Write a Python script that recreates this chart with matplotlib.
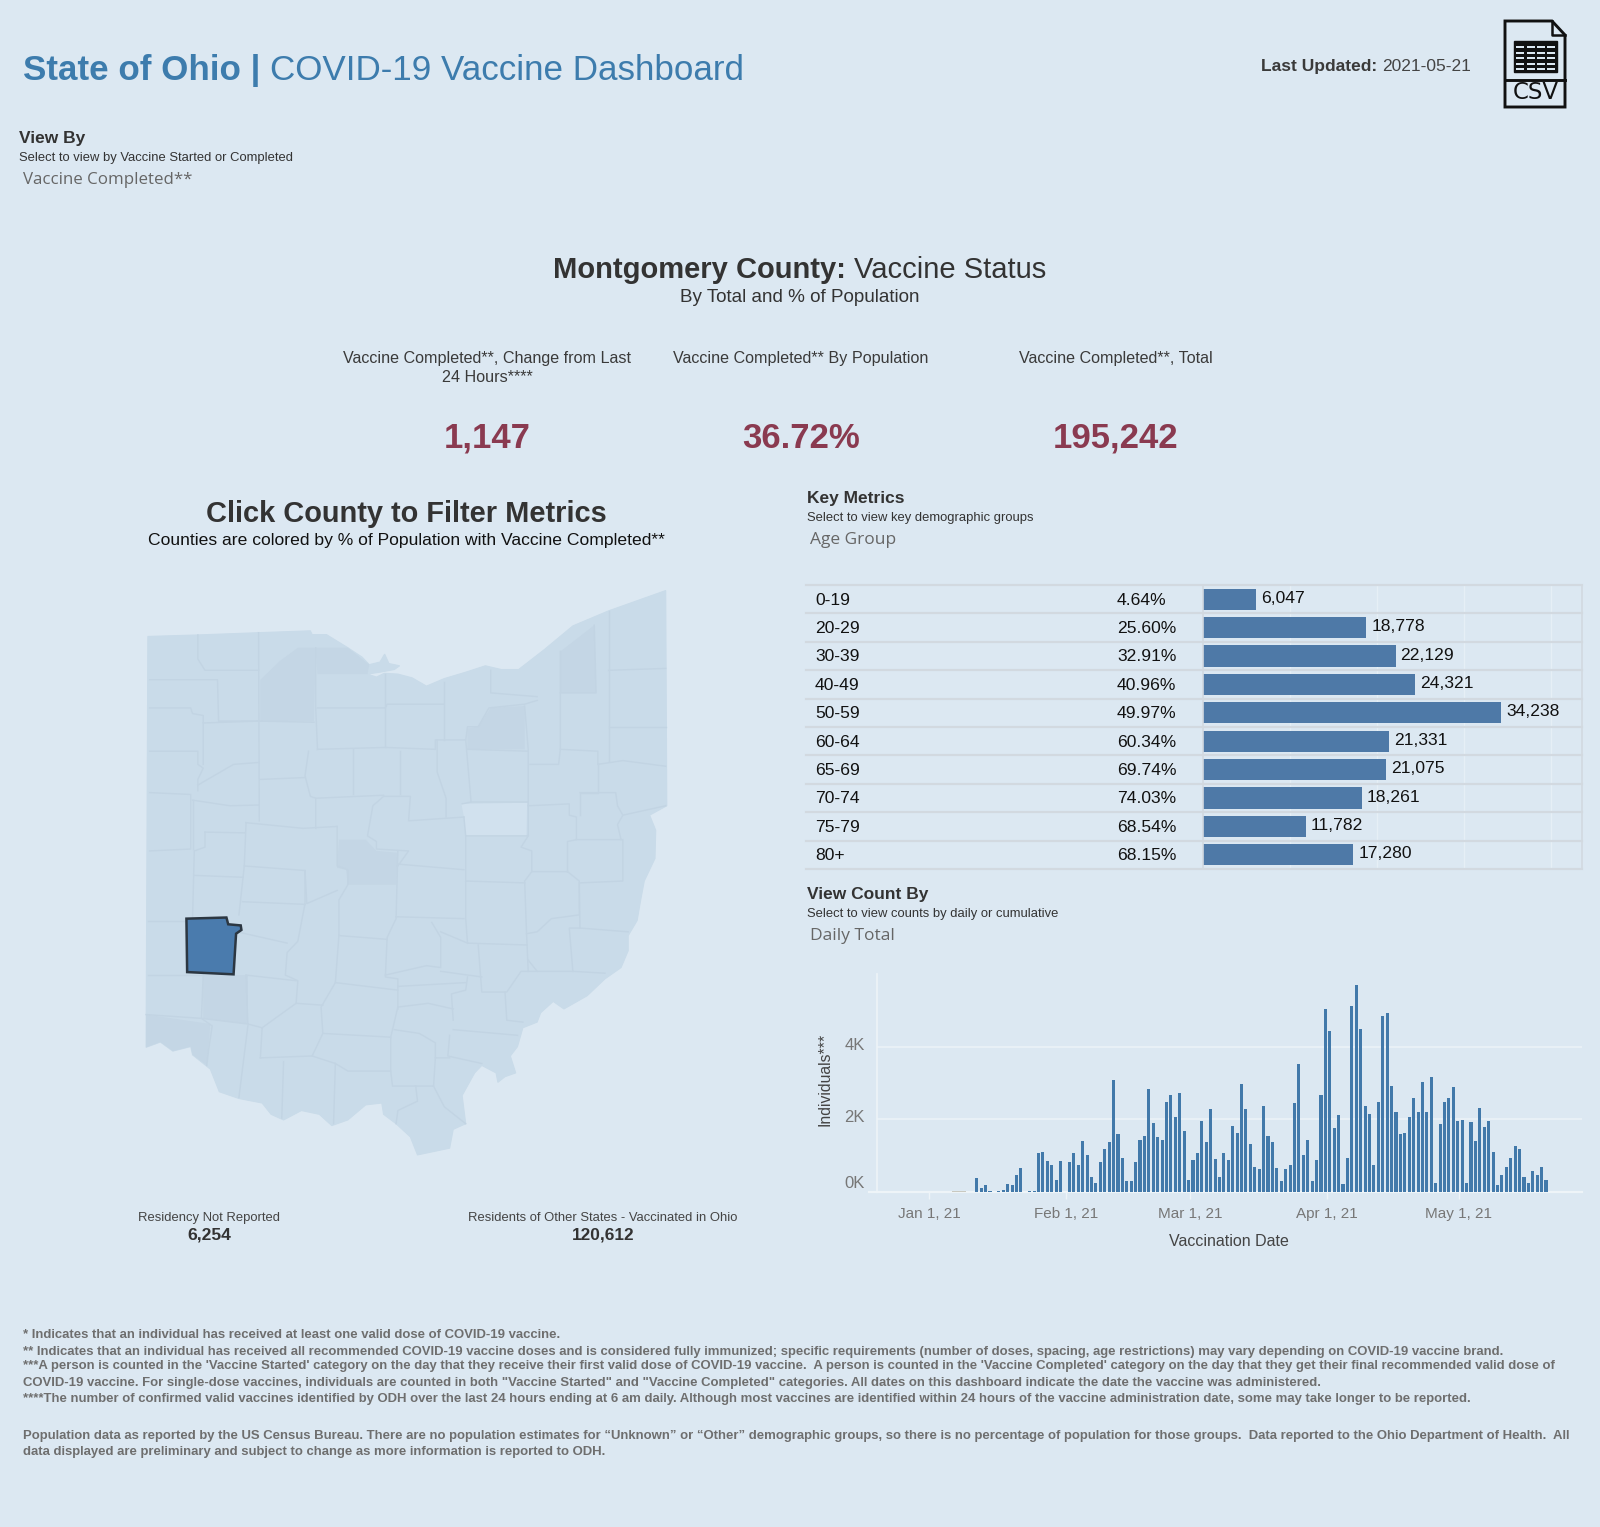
import matplotlib
matplotlib.use("Agg")
import matplotlib.pyplot as plt
import matplotlib.dates as mdates
from matplotlib.patches import Polygon, Rectangle
import pandas as pd
import datetime as dt

W, H = 1600, 1527
BG = "#dce8f2"
plt.rcParams['font.family'] = ['Liberation Sans', 'DejaVu Sans']

# ---------- data ----------
age_groups = ["0-19", "20-29", "30-39", "40-49", "50-59", "60-64", "65-69", "70-74", "75-79", "80+"]
age_pct = ["4.64%", "25.60%", "32.91%", "40.96%", "49.97%", "60.34%", "69.74%", "74.03%", "68.54%", "68.15%"]
age_counts = [6047, 18778, 22129, 24321, 34238, 21331, 21075, 18261, 11782, 17280]

daily_start = "2021-01-11"
daily_k = [
    .39, .1, .18, .03, 0, .03, .06, .22, .19, .46,
    .66, 0, .03, .03, 1.06, 1.1, .86, .74, .34, .86,
    0, .83, 1.07, .75, 1.39, 1.03, .41, .26, .83, 1.19,
    1.38, 3.08, 1.59, .94, .3, .3, .83, 1.42, 1.55, 2.84,
    1.91, 1.51, 1.42, 2.47, 2.68, 2.06, 2.72, 1.67, .34, .87,
    1.07, 1.95, 1.38, 2.28, .9, .41, 1.07, .87, 1.83, 1.63,
    2.96, 2.28, 1.31, .7, .62, 2.36, 1.55, 1.38, .66, .3,
    .62, .75, 2.44, 3.52, 1.02, 1.43, .3, .87, 2.68, 5.05,
    4.44, 1.75, 2.11, .22, .94, 5.13, 5.7, 4.49, 2.36, 2.16,
    .75, 2.48, 4.85, 4.93, 2.92, 2.19, 1.59, 1.63, 2.07, 2.6,
    2.19, 3.04, 2.19, 3.16, .26, 1.87, 2.48, 2.6, 2.88, 1.95,
    1.99, .26, 1.92, 1.39, 2.31, 1.79, 1.95, 1.1, .18, .46,
    .7, .94, 1.27, 1.19, .41, .26, .58, .46, .7, .34,
]
early_dates = ["2021-01-06", "2021-01-07", "2021-01-08"]
early_k = [.02, .02, .02]
month_ticks = ["2021-01-01", "2021-02-01", "2021-03-01", "2021-04-01", "2021-05-01"]
month_labels = ["Jan 1, 21", "Feb 1, 21", "Mar 1, 21", "Apr 1, 21", "May 1, 21"]
y_ticks_k = [0, 2, 4]

kpi_values = ["1,147", "36.72%", "195,242"]
kpi_heads = ["Vaccine Completed**, Change from Last\n24 Hours****",
             "Vaccine Completed** By Population",
             "Vaccine Completed**, Total"]

footnotes = [
    "* Indicates that an individual has received at least one valid dose of COVID-19 vaccine.",
    "** Indicates that an individual has received all recommended COVID-19 vaccine doses and is considered fully immunized; specific requirements (number of doses, spacing, age restrictions) may vary depending on COVID-19 vaccine brand.",
    "***A person is counted in the 'Vaccine Started' category on the day that they receive their first valid dose of COVID-19 vaccine.  A person is counted in the 'Vaccine Completed' category on the day that they get their final recommended valid dose of",
    "COVID-19 vaccine. For single-dose vaccines, individuals are counted in both \"Vaccine Started\" and \"Vaccine Completed\" categories. All dates on this dashboard indicate the date the vaccine was administered.",
    "****The number of confirmed valid vaccines identified by ODH over the last 24 hours ending at 6 am daily. Although most vaccines are identified within 24 hours of the vaccine administration date, some may take longer to be reported.",
    "Population data as reported by the US Census Bureau. There are no population estimates for \u201cUnknown\u201d or \u201cOther\u201d demographic groups, so there is no percentage of population for those groups.  Data reported to the Ohio Department of Health.  All",
    "data displayed are preliminary and subject to change as more information is reported to ODH.",
]

# map shapes (traced, in map units)
ohio = [(50,150),(190,146),(360,140),(505,135),(510,145),(550,145),(610,180),(650,205),(670,225),(700,218),(713,197),(725,222),(755,228),(740,238),(700,245),(665,250),(690,258),(712,248),(750,250),(790,260),(830,282),(880,262),(940,245),(995,228),(1040,238),(1088,238),(1160,185),(1240,122),(1340,82),(1500,28),(1503,600),(1455,625),(1472,665),(1470,740),(1440,800),(1430,850),(1420,905),(1395,945),(1395,985),(1375,1030),(1330,1060),(1280,1105),(1215,1140),(1185,1120),(1150,1150),(1140,1175),(1100,1190),(1085,1240),(1065,1265),(1080,1310),(1050,1320),(1030,1335),(1025,1310),(985,1290),(965,1310),(930,1370),(940,1445),(905,1460),(895,1510),(805,1528),(785,1480),(745,1445),(710,1420),(705,1390),(660,1395),(610,1435),(565,1450),(530,1420),(480,1410),(430,1435),(395,1420),(370,1390),(305,1378),(250,1360),(225,1300),(175,1262),(170,1240),(120,1252),(85,1228),(45,1242)]
montgomery = [(158,900),(270,897),(275,915),(310,918),(312,930),(297,940),(290,1048),(160,1042)]
holmes = [(928,595),(1112,592),(1110,680),(940,680),(935,630)]
dark_counties = [
    [(365,265),(420,215),(470,180),(520,180),(515,375),(365,375)],
    [(520,180),(610,180),(670,225),(665,250),(525,250)],
    [(945,395),(975,390),(1010,340),(1105,335),(1105,450),(945,450)],
    [(585,690),(660,690),(690,720),(750,725),(745,810),(610,810),(605,770),(580,765)],
    [(205,1050),(330,1050),(330,1180),(205,1165)],
    [(1205,190),(1300,120),(1305,300),(1205,300)],
    [(45,1155),(225,1180),(215,1290),(175,1262),(170,1240),(120,1252),(85,1228),(45,1242)],
]
borders = [
    [(190,146),(190,210),(210,240),(360,240)], [(360,140),(362,640)],
    [(55,265),(245,265),(248,375),(360,375)], [(55,340),(170,340),(175,355),(205,360),(205,490)],
    [(205,380),(360,375),(515,378)], [(55,455),(190,455),(190,490),(205,500),(190,530),(190,560)],
    [(55,565),(170,570),(170,715),(55,720)], [(175,585),(175,715)],
    [(190,545),(290,490),(360,485)], [(175,585),(280,600),(360,598)],
    [(210,670),(210,710),(180,720),(175,905)], [(210,670),(320,672)],
    [(325,645),(485,660),(580,655)], [(325,645),(320,760),(305,890)],
    [(180,785),(315,790)], [(320,760),(490,772),(495,860),(580,825)],
    [(520,180),(520,340),(525,450)], [(525,340),(715,340),(720,330),(880,330)],
    [(715,250),(715,445)], [(880,270),(880,425)],
    [(525,450),(715,445),(855,450),(855,425),(940,425),(945,390),(975,390),(1005,340),(1105,330),(1140,320)],
    [(1010,240),(1010,300),(1140,310)], [(1105,335),(1115,450),(1115,590)],
    [(1205,190),(1205,450),(1200,490),(1120,490)], [(1300,120),(1305,300),(1205,300)],
    [(1340,82),(1340,480)], [(1340,240),(1500,235)], [(1340,390),(1500,390)],
    [(1205,450),(1310,455),(1310,490),(1380,480),(1500,495)], [(945,450),(1115,455)],
    [(940,425),(955,590),(930,595)], [(955,590),(1115,590),(1115,680),(940,680),(935,630)],
    [(1115,600),(1230,595),(1230,625),(1250,630),(1250,690),(1225,695),(1225,775)],
    [(1260,565),(1360,565),(1365,600),(1380,625),(1365,650),(1375,690)],
    [(1250,690),(1380,690),(1380,800),(1260,805)], [(1310,490),(1310,565),(1260,565),(1260,625)],
    [(1500,600),(1380,625)], [(1115,680),(1095,710),(1125,720),(1125,775),(1225,775)],
    [(1125,775),(1105,800),(1110,930),(1115,1040)],
    [(1225,775),(1258,800),(1258,890),(1180,900),(1140,935),(1110,940)],
    [(1258,805),(1260,925),(1230,925),(1240,1040)], [(1260,925),(1395,935)],
    [(940,800),(1105,805)], [(940,680),(940,900),(945,965),(1110,970)],
    [(1115,1010),(1140,1040),(1240,1040),(1330,1045)],
    [(975,970),(985,1095),(1055,1095),(1095,1040),(1140,1040)],
    [(1050,1095),(1055,1170),(1100,1175)],
    [(935,630),(780,640),(785,575),(710,575),(680,600),(665,680),(690,695),(690,715),(780,720),(750,760)],
    [(750,755),(935,770)], [(745,895),(935,900)],
    [(750,720),(745,900),(720,950),(715,1055),(750,1060),(750,1140)],
    [(860,425),(860,510),(885,580),(885,630)], [(755,455),(755,570)], [(625,450),(625,570)],
    [(500,455),(490,520),(505,575),(520,580),(520,660)], [(365,530),(490,525)], [(520,580),(710,572)],
    [(580,655),(580,760),(610,770),(610,810),(585,850),(585,945),(575,1070),(535,1135),(540,1205),(510,1265)],
    [(490,772),(490,860),(470,960),(440,990),(435,1050),(470,1065),(465,1125),(540,1130)],
    [(315,855),(490,862)], [(300,935),(440,965)], [(585,945),(720,955)], [(575,1070),(750,1090)],
    [(750,1080),(940,1070)], [(945,1055),(940,1090),(900,1100),(905,1170)],
    [(715,1050),(830,1025),(870,1030),(870,950),(845,910)], [(870,935),(945,965)], [(870,1040),(985,1055)],
    [(750,1135),(835,1125),(905,1140)], [(740,1195),(810,1205),(855,1230),(855,1270),(895,1270)],
    [(905,1195),(1085,1210)], [(895,1210),(890,1265),(985,1285)],
    [(540,1205),(730,1215),(730,1305)], [(730,1215),(750,1135)],
    [(365,1270),(510,1265),(575,1285),(570,1445)],
    [(575,1285),(610,1305),(730,1305),(735,1345),(850,1345),(855,1270)],
    [(800,1345),(805,1385),(750,1410),(745,1445)], [(850,1345),(880,1400),(940,1445)],
    [(430,1280),(425,1430)], [(330,1185),(305,1375)], [(370,1190),(365,1270)], [(370,1190),(465,1125)],
    [(325,1050),(330,1180),(370,1190)], [(325,1050),(465,1065)], [(205,1050),(200,1165),(330,1180)],
    [(50,1050),(205,1050)], [(50,905),(160,905)], [(45,1155),(200,1165),(230,1185),(220,1250),(215,1290)],
]

# ---------- figure ----------
fig = plt.figure(figsize=(W / 100, H / 100), dpi=100, facecolor=BG)


def px_axes(x0, y0, x1, y1, **kw):
    return fig.add_axes([x0 / W, 1 - y1 / H, (x1 - x0) / W, (y1 - y0) / H], **kw)


ov = px_axes(0, 0, W, H)
ov.set_xlim(0, W)
ov.set_ylim(H, 0)
ov.axis("off")
ov.patch.set_alpha(0)
renderer = fig.canvas.get_renderer()


def T(x, y, s, size, color="#333333", weight="normal", ha="left", family=None, va="center", **kw):
    return ov.text(x, y, s, fontsize=size, color=color, fontweight=weight, ha=ha, va=va,
                   family=family if family else ['Liberation Sans', 'DejaVu Sans'], **kw)


def mixed(x, y, bold, regular, size, c1, c2=None, center=False):
    c2 = c2 or c1
    base = y + size * 0.36 * 100 / 72
    t1 = T(x, base, bold, size, c1, "bold", va="baseline")
    t2 = T(x, base, regular, size, c2, va="baseline")
    w1 = t1.get_window_extent(renderer).width
    w2 = t2.get_window_extent(renderer).width
    if center:
        x0 = x - (w1 + w2) / 2
        t1.set_x(x0)
    else:
        x0 = x
    t2.set_x(x0 + w1)


# header
TITLE = "#3d7cad"
mixed(23, 67, "State of Ohio | ", "COVID-19 Vaccine Dashboard", 25.2, TITLE)
mixed(1261, 65, "Last Updated: ", "2021-05-21", 12.5, "#3a3a3a", "#444444")

# CSV icon
ink = "#111111"
ov.add_patch(Polygon([(1505, 21), (1552, 21), (1565, 35), (1565, 107), (1505, 107)], closed=True, fc=BG, ec=ink, lw=2.1))
ov.plot([1552, 1552, 1565], [21, 35, 35], color=ink, lw=1.8)
ov.plot([1505, 1565], [80, 80], color=ink, lw=2.1)
ov.add_patch(Rectangle((1514, 41), 43, 31, fc=ink, ec=ink, lw=1))
for gy in (47, 52.5, 58, 63.5, 69):
    for gx in (1516, 1527, 1537, 1547):
        ov.add_patch(Rectangle((gx, gy - 1), 8, 2, fc=BG, ec="none"))
T(1535.5, 92.5, "CSV", 16.5, ink, ha="center", family="DejaVu Sans")

# filters
T(19, 139, "View By", 12.5, "#333333", "bold")
T(19, 158.5, "Select to view by Vaccine Started or Completed", 9.4, "#333333")
T(23, 180.5, "Vaccine Completed**", 12.2, "#666666", family="Open Sans")

# central title
mixed(800, 268, "Montgomery County: ", "Vaccine Status", 21, "#333333", center=True)
T(800, 297, "By Total and % of Population", 13.6, "#333333", ha="center")

for cx, head, val in zip((487, 801, 1116), kpi_heads, kpi_values):
    ov.text(cx, 351, head, fontsize=11.6, color="#3a3a3a", ha="center", va="top", linespacing=1.3)
    T(cx, 438, val, 25, "#8a3a50", "bold", ha="center")

# map titles
T(406, 514, "Click County to Filter Metrics", 20.9, "#333333", "bold", ha="center")
T(406, 540.5, "Counties are colored by % of Population with Vaccine Completed**", 12.6, "#111111", ha="center")

# map
mp = px_axes(130, 580, 690, 1170)
mp.set_xlim(0, 1568)
mp.set_ylim(1568, 0)
mp.axis("off")
mp.patch.set_alpha(0)
BASE = "#c9dbe9"
LINE = "#c2d4e3"
mp.add_patch(Polygon(ohio, closed=True, fc=BASE, ec=BASE, lw=0.8))
for poly in dark_counties:
    mp.add_patch(Polygon(poly, closed=True, fc="#c4d6e5", ec="none"))
mp.add_patch(Polygon(holmes, closed=True, fc="#d1e1ee", ec="none"))
for line in borders:
    xs, ys = zip(*line)
    mp.plot(xs, ys, color=LINE, lw=1.0, solid_joinstyle="round")
mp.add_patch(Polygon(montgomery, closed=True, fc="#4a7bad", ec="#2c3742", lw=1.8, zorder=5))

T(209, 1218, "Residency Not Reported", 9.4, "#444444", ha="center")
T(209, 1235.5, "6,254", 12.6, "#333333", "bold", ha="center")
T(603, 1218, "Residents of Other States - Vaccinated in Ohio", 9.4, "#444444", ha="center")
T(603, 1235.5, "120,612", 12.4, "#333333", "bold", ha="center")

# key metrics header
T(807, 499, "Key Metrics", 12.5, "#333333", "bold")
T(807, 517.5, "Select to view key demographic groups", 9.4, "#333333")
T(810, 540, "Age Group", 12.5, "#666666", family="Open Sans")

# age table
ROW = "#d2d9e0"
X0 = 1203
tb = px_axes(X0, 585, 1582, 869)
tb.set_facecolor("none")
tb.set_xlim(0, 34238 * (1582 - X0) / (1501 - X0))
tb.set_ylim(len(age_groups) - 0.5, -0.5)
for s in tb.spines.values():
    s.set_visible(False)
tb.set_xticks([10000, 20000, 30000, 40000])
tb.tick_params(left=False, bottom=False, labelleft=False, labelbottom=False)
tb.grid(axis="x", color="#e6eff6", lw=1)
tb.set_axisbelow(True)
tb.barh(range(len(age_groups)), age_counts, height=0.75, color="#4e79a7")
frac = lambda px: (px - X0) / (1582 - X0)
ytr = tb.get_yaxis_transform()
for i in range(len(age_groups) + 1):
    tb.plot([frac(806), 1], [i - 0.5, i - 0.5], transform=ytr, color=ROW, lw=1.6, clip_on=False)
for xf in (0, 1):
    tb.plot([xf, xf], [-0.5, len(age_groups) - 0.5], transform=ytr, color=ROW, lw=1.2, clip_on=False)
for i, (g, p, c) in enumerate(zip(age_groups, age_pct, age_counts)):
    tb.text(frac(815), i + 0.03, g, transform=ytr, fontsize=12.6, color="#111111", va="center")
    tb.text(frac(1117), i + 0.03, p, transform=ytr, fontsize=12.6, color="#111111", va="center")
    tb.annotate(f"{c:,}", (c, i), xytext=(5, 1), textcoords="offset pixels", fontsize=12.6,
                color="#111111", va="center")

# view count header
T(807, 895, "View Count By", 12.5, "#333333", "bold")
T(807, 913.5, "Select to view counts by daily or cumulative", 9.4, "#333333")
T(810, 936, "Daily Total", 12.5, "#666666", family="Open Sans")

# daily chart
day_px = 4.413
jan1 = mdates.date2num(dt.date(2021, 1, 1))
ax = px_axes(877, 974, 1582, 1192)
ax.set_facecolor("none")
ax.set_xlim(jan1 - (929.4 - 877) / day_px, jan1 + (1582 - 929.4) / day_px)
ax.set_ylim(0, 6000)
dates = mdates.date2num(pd.date_range(daily_start, periods=len(daily_k)))
offset = 0.73
ax.bar(dates + offset, [v * 1000 for v in daily_k], width=0.7, color="#4279aa", zorder=3)
ax.bar(mdates.date2num(pd.to_datetime(early_dates)) + offset, [v * 1000 for v in early_k], width=1,
       color="#c9c9c0", zorder=3)
for s in ("top", "right"):
    ax.spines[s].set_visible(False)
ax.spines["left"].set_color("#eef4f8")
ax.spines["bottom"].set_color("#eef4f8")
ax.spines["left"].set_linewidth(1.2)
ax.spines["bottom"].set_linewidth(1.6)
ax.set_yticks([v * 1000 for v in y_ticks_k])
ax.set_yticklabels([])
ax.tick_params(axis="y", length=0)
ax.grid(axis="y", color="#e8f0f6", lw=1.5, zorder=1)
ax.set_axisbelow(True)
ax.set_xticks(mdates.date2num(pd.to_datetime(month_ticks)))
ax.set_xticklabels(month_labels, fontsize=11, color="#777777")
ax.tick_params(axis="x", length=5, color="#eef4f8", width=1, pad=6)
for k, ypx in zip(y_ticks_k, (1183, 1118, 1046)):
    T(865, ypx, f"{k}K", 12, "#777777", ha="right")
ov.plot([869, 877], [1192, 1192], color="#eef4f8", lw=1.6)
T(825, 1079, "Individuals***", 11.3, "#444444", ha="center", rotation=90)
T(1229, 1241, "Vaccination Date", 11.5, "#444444", ha="center")

# footnotes
for y, line in zip((1335.5, 1351.5, 1366.5, 1383, 1399, 1435.5, 1451.5), footnotes):
    T(23, y, line, 9.44, "#6e6e6e", "bold")

ov.set_zorder(10)
fig.savefig("out.png", dpi=100, facecolor=BG)
